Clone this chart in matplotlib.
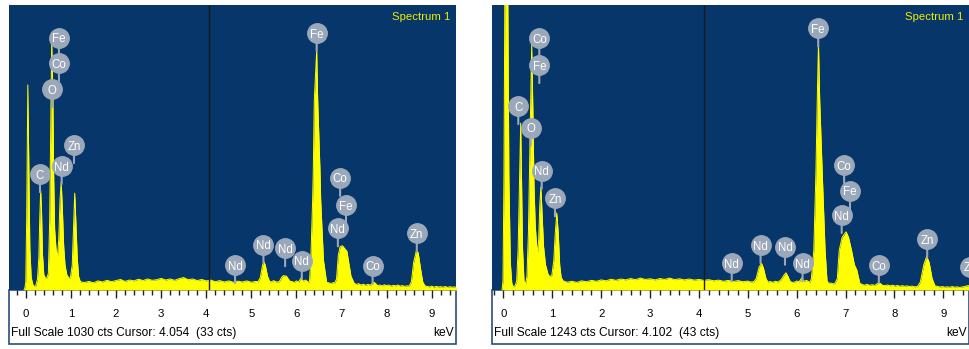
import numpy as np
import matplotlib
matplotlib.use('Agg')
import matplotlib.pyplot as plt
from matplotlib import font_manager
from matplotlib.patches import Rectangle
from matplotlib.ticker import MultipleLocator

# ---- data (keV, counts) ----
left_peaks = [(-0.04, 0), (-0.02, 8), (0.00, 30), (0.02, 260), (0.045, 741), (0.07, 420),
              (0.09, 150), (0.12, 45), (0.16, 18), (0.20, 12),
              (0.22, 15), (0.26, 40), (0.29, 120), (0.31, 260), (0.33, 361), (0.35, 280),
              (0.37, 130), (0.40, 55), (0.44, 42), (0.47, 45),
              (0.50, 60), (0.53, 250), (0.555, 600), (0.575, 904), (0.60, 700), (0.62, 400),
              (0.64, 220), (0.67, 150), (0.70, 115), (0.73, 180), (0.76, 330), (0.785, 390),
              (0.81, 300), (0.84, 160), (0.87, 90), (0.91, 55), (0.96, 42),
              (0.99, 45), (1.03, 90), (1.06, 230), (1.085, 350), (1.11, 250), (1.14, 120),
              (1.17, 50), (1.21, 30)]
left_background = [(1.3, 27), (1.4, 31), (1.5, 26), (1.6, 33), (1.7, 29), (1.8, 35), (1.9, 30),
                   (2.0, 34), (2.1, 38), (2.2, 31), (2.3, 36), (2.4, 33), (2.5, 39), (2.6, 34),
                   (2.7, 40), (2.8, 35), (2.9, 37), (3.0, 42), (3.1, 36), (3.2, 40), (3.3, 35),
                   (3.4, 41), (3.5, 45), (3.6, 37), (3.7, 40), (3.8, 34), (3.9, 38), (4.0, 33),
                   (4.1, 36), (4.2, 30), (4.3, 34), (4.4, 29), (4.5, 33), (4.6, 28), (4.7, 32),
                   (4.8, 29), (4.9, 33), (5.0, 28), (5.1, 31),
                   (5.15, 30), (5.20, 45), (5.25, 90), (5.28, 102), (5.31, 90), (5.36, 50), (5.41, 30),
                   (5.45, 30), (5.5, 34), (5.55, 29),
                   (5.62, 30), (5.67, 45), (5.71, 52), (5.78, 50), (5.82, 40), (5.87, 30),
                   (5.9, 31), (5.95, 27), (6.0, 33), (6.05, 29), (6.1, 43), (6.15, 32), (6.2, 36),
                   (6.27, 28), (6.29, 30), (6.32, 108), (6.36, 325), (6.375, 434), (6.397, 687),
                   (6.45, 867), (6.472, 687), (6.523, 434), (6.539, 325), (6.60, 108), (6.67, 28),
                   (6.72, 26), (6.77, 23), (6.82, 27),
                   (6.85, 25), (6.89, 40), (6.93, 126), (6.97, 157), (7.02, 160), (7.07, 150),
                   (7.12, 140), (7.17, 90), (7.21, 50), (7.28, 25),
                   (7.33, 20), (7.38, 23), (7.43, 18), (7.48, 21), (7.53, 17), (7.58, 20),
                   (7.65, 18), (7.70, 28), (7.74, 26), (7.80, 16),
                   (7.85, 18), (7.9, 15), (7.95, 19), (8.0, 16), (8.05, 18), (8.1, 14), (8.15, 17),
                   (8.2, 15), (8.25, 18), (8.3, 14), (8.35, 16), (8.4, 13), (8.45, 15),
                   (8.50, 14), (8.55, 30), (8.60, 100), (8.66, 142), (8.70, 135), (8.75, 80),
                   (8.80, 30), (8.85, 15),
                   (8.9, 13), (8.95, 11), (9.0, 14), (9.05, 10), (9.1, 13), (9.15, 11), (9.2, 12),
                   (9.25, 10), (9.3, 13), (9.35, 9), (9.4, 12), (9.45, 10), (9.5, 11), (9.56, 10)]

right_peaks = [(-0.03, 0), (-0.01, 40), (0.01, 500), (0.03, 1400), (0.085, 1400), (0.11, 500),
               (0.14, 120), (0.17, 30), (0.20, 13), (0.24, 20),
               (0.27, 40), (0.30, 180), (0.33, 500), (0.352, 728), (0.37, 480), (0.39, 180),
               (0.42, 40), (0.45, 25),
               (0.48, 60), (0.51, 250), (0.54, 620), (0.577, 1068), (0.60, 800), (0.625, 450),
               (0.65, 280), (0.68, 190), (0.70, 165), (0.72, 220), (0.745, 380), (0.765, 449),
               (0.79, 330), (0.82, 190), (0.86, 110), (0.91, 70), (0.95, 57),
               (0.99, 65), (1.03, 130), (1.06, 250), (1.09, 336), (1.12, 250), (1.15, 110),
               (1.18, 55), (1.22, 40)]
right_background = [(1.3, 34), (1.4, 38), (1.5, 33), (1.6, 40), (1.7, 36), (1.8, 42), (1.9, 38),
                    (2.0, 44), (2.1, 40), (2.2, 47), (2.3, 42), (2.4, 48), (2.5, 44), (2.6, 50),
                    (2.7, 45), (2.8, 52), (2.9, 46), (3.0, 49), (3.1, 44), (3.2, 50), (3.3, 46),
                    (3.4, 52), (3.5, 45), (3.6, 49), (3.7, 44), (3.8, 48), (3.9, 43), (4.0, 46),
                    (4.1, 42), (4.2, 45), (4.3, 40), (4.4, 43), (4.5, 38), (4.6, 42), (4.7, 37),
                    (4.8, 41), (4.9, 36), (5.0, 39), (5.05, 35),
                    (5.12, 36), (5.17, 50), (5.23, 100), (5.28, 116), (5.32, 95), (5.37, 50), (5.41, 35),
                    (5.46, 37), (5.51, 33), (5.56, 38),
                    (5.62, 35), (5.68, 45), (5.74, 65), (5.78, 75), (5.82, 60), (5.86, 40), (5.90, 33),
                    (5.95, 34), (6.0, 39), (6.05, 36), (6.1, 52), (6.15, 38), (6.2, 42),
                    (6.27, 33), (6.30, 50), (6.35, 174), (6.394, 523), (6.42, 829), (6.445, 1077),
                    (6.47, 829), (6.52, 523), (6.58, 174), (6.62, 40), (6.65, 30),
                    (6.70, 30), (6.74, 27),
                    (6.78, 28), (6.83, 50), (6.87, 174), (6.93, 230), (7.01, 254), (7.06, 230),
                    (7.12, 174), (7.18, 110), (7.23, 87), (7.29, 30),
                    (7.34, 24), (7.39, 21), (7.44, 25), (7.49, 20), (7.54, 23),
                    (7.60, 20), (7.65, 28), (7.70, 30), (7.76, 20),
                    (7.81, 19), (7.86, 22), (7.91, 18), (7.96, 21), (8.01, 17), (8.06, 20),
                    (8.11, 16), (8.16, 19), (8.21, 16), (8.26, 18), (8.31, 15), (8.36, 17), (8.41, 14),
                    (8.47, 15), (8.53, 35), (8.60, 110), (8.66, 148), (8.71, 120), (8.77, 50), (8.83, 18),
                    (8.88, 16), (8.93, 13), (8.98, 15), (9.03, 12), (9.08, 14), (9.13, 12),
                    (9.18, 15), (9.23, 12), (9.28, 14), (9.33, 11), (9.38, 13), (9.43, 15),
                    (9.48, 18), (9.55, 20), (9.6, 18)]

# element markers: (symbol, keV, counts at marker centre)
left_labels = [('Fe', 0.736, 911), ('Co', 0.736, 820), ('O', 0.588, 726), ('Zn', 1.069, 524),
               ('Nd', 0.796, 448), ('C', 0.315, 419), ('Fe', 6.45, 928), ('Co', 6.97, 405),
               ('Fe', 7.10, 307), ('Nd', 6.92, 223), ('Nd', 4.64, 90), ('Nd', 5.27, 163),
               ('Nd', 5.75, 151), ('Nd', 6.12, 106), ('Co', 7.69, 87), ('Zn', 8.67, 205)]
right_labels = [('Co', 0.733, 1098), ('Fe', 0.733, 981), ('C', 0.303, 802), ('O', 0.557, 708),
                ('Nd', 0.782, 520), ('Zn', 1.054, 400), ('Fe', 6.44, 1141), ('Co', 6.97, 545),
                ('Fe', 7.09, 433), ('Nd', 6.92, 327), ('Nd', 4.67, 116), ('Nd', 5.26, 196),
                ('Nd', 5.76, 189), ('Nd', 6.12, 116), ('Co', 7.68, 109), ('Zn', 8.67, 221),
                ('Zn', 9.55, 102)]

full_scale = [1030, 1243]
cursor_kev = [4.054, 4.102]
cursor_cts = [33, 43]

W, H = 969, 349
BG = '#07366a'
YEL = '#ffff00'
GREY = '#9ba8ba'

try:
    font_manager.findfont('Liberation Sans Narrow', fallback_to_default=False)
    NARROW, fs_scale = 'Liberation Sans Narrow', 1.0
except ValueError:
    NARROW, fs_scale = 'Liberation Sans', 0.82

fig = plt.figure(figsize=(W / 100, H / 100), dpi=100)
fig.patch.set_facecolor('white')


def draw_panel(px, xlim, peaks, background, labels, fscale, cur, cur_cts):
    x0, x1, ytop, ybot, ystrip = px
    # white scale strip with its frame, kept under the axes so ticks show
    fig.patches.append(Rectangle((x0 / W, (H - ystrip) / H), (x1 - x0) / W, (ystrip - ybot) / H,
                                 transform=fig.transFigure, fc='white', ec='#2c4b7a', lw=1.2,
                                 zorder=-5))
    ax = fig.add_axes([x0 / W, (H - ybot) / H, (x1 - x0) / W, (ybot - ytop) / H])
    ax.set_facecolor(BG)
    e, c = np.array(peaks + background).T
    ax.fill_between(e, 0, c, color=YEL, lw=0)
    ax.plot(e, c, color=YEL, lw=0.7)
    ax.axvline(cur, color='#1a1a1a', lw=1)
    ax.set_xlim(xlim)
    ax.set_ylim(0, fscale)
    for s in ax.spines.values():
        s.set_visible(False)
    ax.set_yticks([])
    ax.set_xticks(range(10))
    ax.xaxis.set_minor_locator(MultipleLocator(0.2))
    ax.tick_params(axis='x', which='major', direction='out', length=5.5, width=1,
                   color='#222222', pad=8, labelsize=10 * fs_scale, labelcolor='black')
    ax.tick_params(axis='x', which='minor', direction='out', length=3.5, width=1,
                   color='#222222')
    for t in ax.get_xticklabels():
        t.set_fontfamily(NARROW)

    for sym, kev, cts in labels:
        ax.annotate('', xy=(kev, cts), xytext=(0, -13), textcoords='offset points',
                    arrowprops=dict(arrowstyle='-', color=GREY, lw=1.5, shrinkA=0, shrinkB=0),
                    annotation_clip=False)
        ax.plot(kev, cts, 'o', ms=14, color=GREY, mec=GREY, clip_on=False)
        ax.text(kev, cts, sym, color='white', fontsize=8.3, family='Liberation Sans',
                ha='center', va='center_baseline', clip_on=False)

    fig.text((x1 - 6) / W, (H - 17) / H, 'Spectrum 1', color='#eeee00', ha='right',
             va='center', fontsize=10 * fs_scale, family=NARROW)
    fig.text((x0 + 2) / W, (H - 333) / H,
             'Full Scale %d cts Cursor: %.3f  (%d cts)' % (fscale, cur, cur_cts),
             ha='left', va='center', fontsize=10.5 * fs_scale, family=NARROW)
    fig.text((x1 - 2) / W, (H - 333) / H, 'keV', ha='right', va='center',
             fontsize=10.5 * fs_scale, family=NARROW)


draw_panel((9, 456, 5, 290, 344), (-0.372, 9.539), left_peaks, left_background, left_labels,
           full_scale[0], cursor_kev[0], cursor_cts[0])
draw_panel((492, 969, 5, 290, 344), (-0.235, 9.525), right_peaks, right_background, right_labels,
           full_scale[1], cursor_kev[1], cursor_cts[1])

fig.savefig('out.png', dpi=100, facecolor='white')
